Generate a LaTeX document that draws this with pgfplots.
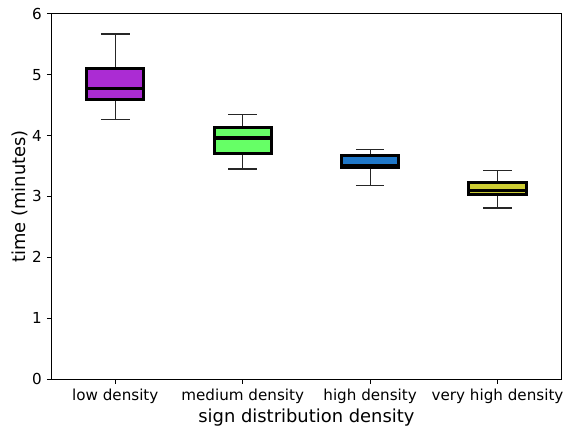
\documentclass[border=0pt]{standalone}
\usepackage{pgfplots}
\pgfplotsset{compat=1.18}
\usepgfplotslibrary{statistics}
\usepackage{fontspec}
\setmainfont{DejaVu Sans}
\definecolor{cpurple}{RGB}{171,44,211}
\definecolor{cgreen}{RGB}{102,255,102}
\definecolor{cblue}{RGB}{31,119,200}
\definecolor{cyellow}{RGB}{204,204,51}
\begin{document}
\begin{tikzpicture}
\begin{axis}[
  name=ax,
  scale only axis,
  width=370pt, height=265pt,
  xmin=0.5, xmax=4.5, ymin=0, ymax=6,
  xtick={1,2,3,4},
  xticklabels={low density, medium density, high density, very high density},
  ytick={0,1,2,3,4,5,6},
  xtick pos=bottom, ytick pos=left,
  tick align=outside,
  major tick length=3.5pt,
  every tick/.style={black, line width=0.6pt},
  axis line style={line width=0.6pt},
  tick label style={font=\fontsize{11}{13}\selectfont},
  label style={font=\fontsize{13}{15}\selectfont},
  /pgf/number format/assume math mode=true,
  xlabel={sign distribution density},
  ylabel={time (minutes)},
  xlabel style={yshift=3pt},
  ylabel style={yshift=-4pt},
  boxplot/draw direction=y,
  boxplot/box extend=0.45,
  boxplot/whisker extend=0.225,
  boxplot/every whisker/.style={line width=0.8pt, draw=black!85},
  boxplot/every median/.style={line width=2.2pt, draw=black},
]
\addplot+[boxplot prepared={lower whisker=4.26, lower quartile=4.60, median=4.77, upper quartile=5.10, upper whisker=5.67, draw position=1},
  boxplot/every box/.style={draw=black, line width=2.2pt, fill=cpurple}, draw=black, mark=none] coordinates {};
\addplot+[boxplot prepared={lower whisker=3.45, lower quartile=3.71, median=3.96, upper quartile=4.13, upper whisker=4.34, draw position=2},
  boxplot/every box/.style={draw=black, line width=2.2pt, fill=cgreen}, draw=black, mark=none] coordinates {};
\addplot+[boxplot prepared={lower whisker=3.18, lower quartile=3.47, median=3.50, upper quartile=3.68, upper whisker=3.77, draw position=3},
  boxplot/every box/.style={draw=black, line width=2.2pt, fill=cblue}, draw=black, mark=none] coordinates {};
\addplot+[boxplot prepared={lower whisker=2.81, lower quartile=3.03, median=3.10, upper quartile=3.23, upper whisker=3.42, draw position=4},
  boxplot/every box/.style={draw=black, line width=2.2pt, fill=cyellow}, draw=black, mark=none] coordinates {};
\end{axis}
\path[use as bounding box] ([xshift=-37.44pt,yshift=-32.4pt]ax.south west) rectangle ([xshift=1.44pt,yshift=10.08pt]ax.north east);
\end{tikzpicture}
\end{document}
